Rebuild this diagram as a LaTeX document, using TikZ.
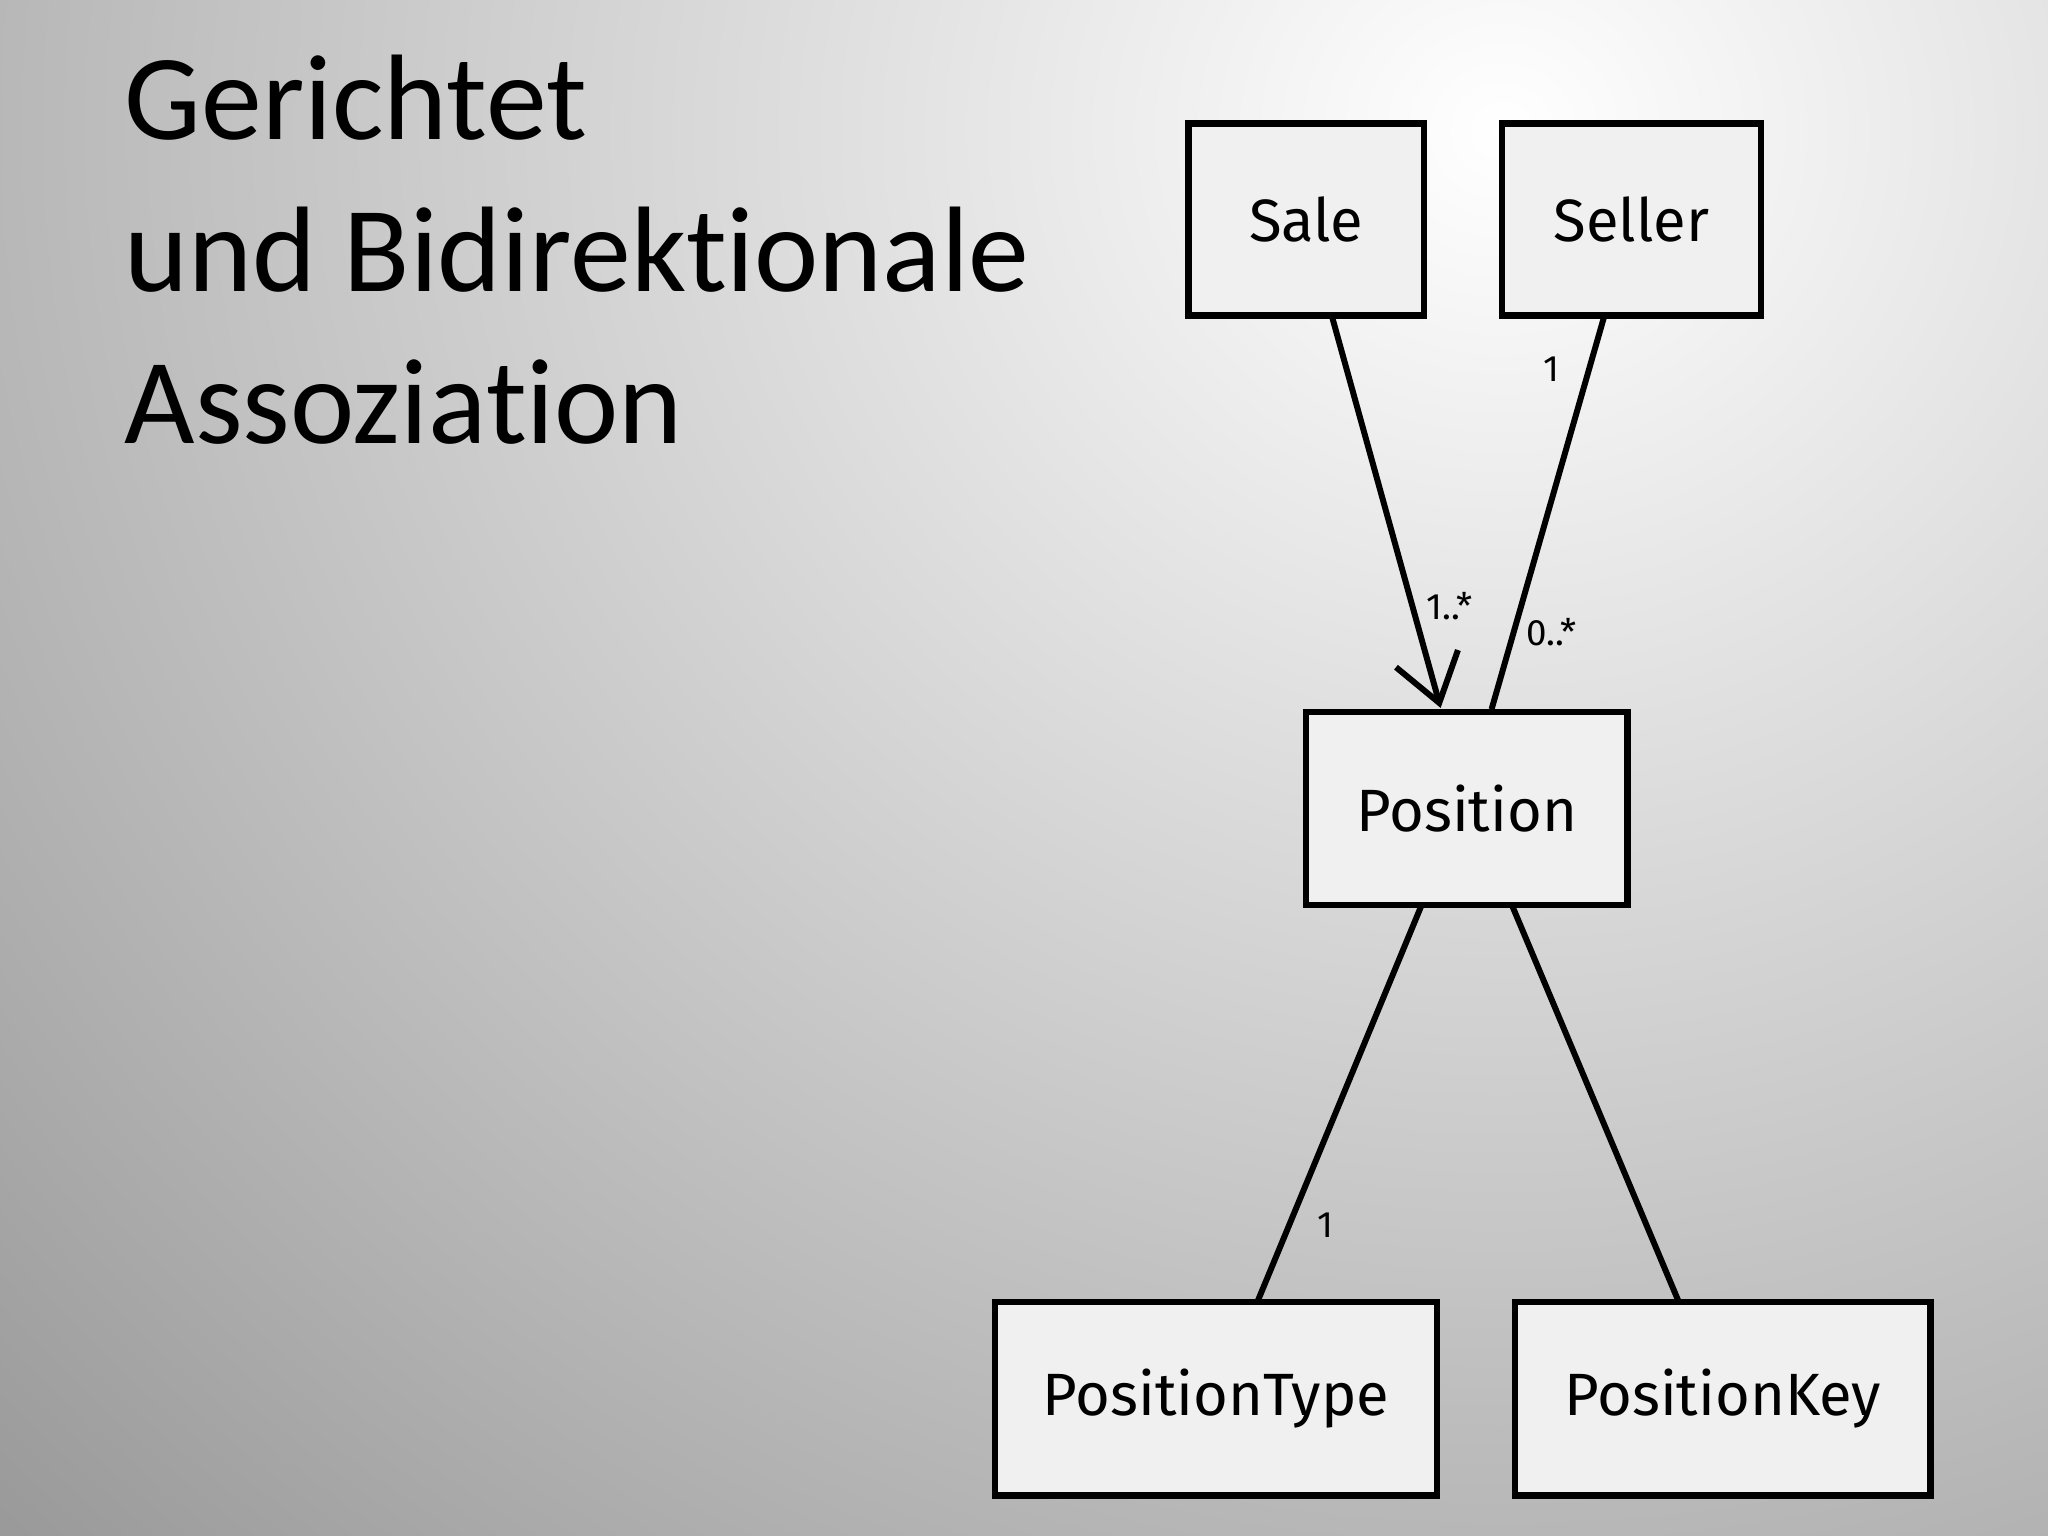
\documentclass[tikz,border=0pt]{standalone}
\usepackage{fontspec}
\usetikzlibrary{arrows.meta}
\setmainfont{Carlito}[Ligatures={NoCommon}]
\newfontfamily\handfont{Fira Sans}
\begin{document}
\begin{tikzpicture}[x=0.01cm,y=-0.01cm,
  cls/.style={draw=black,line width=1.4pt,fill=white!94!black,font=\handfont\fontsize{13}{16}\selectfont},
  assoc/.style={line width=1.3pt},
  mult/.style={font=\handfont\fontsize{8}{10}\selectfont}]
\useasboundingbox (0,0) rectangle (1568,1176);
\shade[inner color=white,outer color=black!50] (-900,-1800) rectangle (3200,2000);
\node[anchor=north west,align=left,font=\fontsize{26.5}{33}\selectfont] (title) at (83,30)
  {Gerichtet\\und Bidirektionale\\Assoziation};
\node[cls,minimum width=1.8cm,minimum height=1.47cm] (sale) at (1000,168) {Sale};
\node[cls,minimum width=1.98cm,minimum height=1.47cm] (seller) at (1249,168) {Seller};
\node[cls,minimum width=2.46cm,minimum height=1.48cm] (pos) at (1123,619) {Position};
\node[cls,minimum width=3.38cm,minimum height=1.48cm] (ptype) at (931,1071) {PositionType};
\node[cls,minimum width=3.18cm,minimum height=1.48cm] (pkey) at (1319,1071) {PositionKey};
\coordinate (a1) at (1020,243); \coordinate (a2) at (1103,542);
\coordinate (b1) at (1228,243); \coordinate (b2) at (1142,543);
\coordinate (c1) at (1088,694); \coordinate (c2) at (963,996);
\coordinate (d1) at (1158,694); \coordinate (d2) at (1285,996);
\draw[assoc,-{Straight Barb[length=10pt,width=14pt]}] (a1) -- (a2);
\draw[assoc] (b1) -- (b2);
\draw[assoc] (c1) -- (c2);
\draw[assoc] (d1) -- (d2);
\node[mult] (m1) at (1188,283) {1};
\node[mult] (m2) at (1110,464) {1..*};
\node[mult] (m3) at (1188,484) {0..*};
\node[mult] (m4) at (1015,938) {1};
\end{tikzpicture}
\end{document}
